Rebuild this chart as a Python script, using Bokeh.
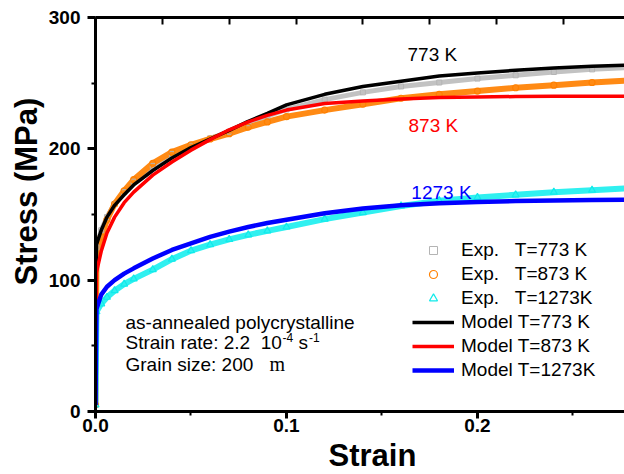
import math

from bokeh.plotting import figure
from bokeh.models import (Range1d, LinearAxis, FixedTicker, SingleIntervalTicker,
                          NumeralTickFormatter, Label, Legend, LegendItem, ColumnDataSource,
                          Title)
from bokeh.embed import file_html
from bokeh.resources import INLINE

# Tensile flow curves: engineering strain vs. stress (MPa)
strain = [0.0, 0.0005, 0.003, 0.006, 0.01, 0.015, 0.02, 0.03, 0.04, 0.05, 0.06, 0.07,
          0.08, 0.09, 0.10, 0.12, 0.14, 0.16, 0.18, 0.20, 0.22, 0.24, 0.26, 0.28]

exp_773 = [5, 125, 138, 148, 158, 167, 175, 187, 196, 202.5, 208, 213,
           219.5, 225, 230, 237.5, 243, 247.5, 250.5, 253.5, 256, 258.5, 260.5, 262]
exp_873 = [5, 115, 133, 146, 158, 168, 176.5, 189, 197.5, 203, 207.5, 211.5,
           216.5, 220.5, 224.5, 229.5, 234, 238.5, 241.5, 244, 246.5, 248.5, 250.5, 252]
exp_1273 = [5, 76, 82, 87, 92, 97, 101, 108, 116, 122.5, 127, 131,
            134.5, 137.5, 140.5, 146.5, 151.5, 156.5, 160.5, 163, 165, 167, 168.5, 170]

model_773 = [5, 127, 138, 148, 157, 165, 172.5, 183.5, 193, 201, 207.5, 214,
             221, 227, 233.5, 241.5, 247.5, 251.5, 255.5, 257.8, 259.8, 261.5, 262.8, 263.8]
model_873 = [5, 106, 122, 136, 148, 159, 167, 180, 190, 199, 207, 214.5,
             220.5, 225.5, 229.5, 234.5, 236.5, 238, 239, 239.5, 239.8, 240, 240, 240]
model_1273 = [5, 78, 89, 95, 100, 105, 109, 116.5, 123, 128, 133, 137,
              140.5, 143.5, 146, 151, 154.5, 157, 158.5, 159.5, 160.2, 160.7, 161, 161.2]

exp_labels = ["Exp.\u00a0\u00a0\u00a0T=773 K", "Exp.\u00a0\u00a0\u00a0T=873 K", "Exp.\u00a0\u00a0\u00a0T=1273K"]
model_labels = ["Model T=773 K", "Model T=873 K", "Model T=1273K"]
curve_tags = ["773 K", "873 K", "1273 K"]
top_ticks = [0.035, 0.070, 0.105, 0.140, 0.175, 0.210, 0.245]

FONT = "Liberation Sans"

src = ColumnDataSource(dict(strain=strain,
                            e773=exp_773, e873=exp_873, e1273=exp_1273,
                            m773=model_773, m873=model_873, m1273=model_1273))

p = figure(width=624, height=474, output_backend="svg", toolbar_location=None,
           x_range=Range1d(0, 0.277), y_range=Range1d(0, 300),
           x_axis_location=None, y_axis_location=None,
           min_border_left=95, min_border_right=0, min_border_top=17, min_border_bottom=63)
p.outline_line_color = None
p.background_fill_color = "white"
p.border_fill_color = "white"
p.grid.visible = False

# axes
xaxis = LinearAxis(ticker=SingleIntervalTicker(interval=0.1, num_minor_ticks=2),
                   formatter=NumeralTickFormatter(format="0.0"))
yaxis = LinearAxis(ticker=SingleIntervalTicker(interval=100, num_minor_ticks=2))
for ax, out in ((xaxis, 7), (yaxis, 8)):
    ax.axis_line_width = 3
    ax.major_tick_line_width = 3
    ax.major_tick_in = 0
    ax.major_tick_out = out
    ax.minor_tick_line_width = 2
    ax.minor_tick_in = 0
    ax.minor_tick_out = 4
    ax.major_label_text_font = FONT
    ax.major_label_text_font_style = "bold"
    ax.major_label_text_font_size = "19px"
    ax.major_label_text_color = "black"
xaxis.major_label_standoff = 0
yaxis.major_label_standoff = 7
p.add_layout(xaxis, "below")
p.add_layout(yaxis, "left")

# plain top frame edge with inward ticks only
top = LinearAxis(ticker=FixedTicker(ticks=top_ticks, minor_ticks=[]))
top.axis_line_width = 3
top.major_tick_line_width = 2
top.major_tick_in = 7
top.major_tick_out = 0
top.major_label_overrides = {t: "" for t in top_ticks}
top.major_label_standoff = 0
p.add_layout(top, "above")

# axis titles
p.add_layout(Title(text="Stress (MPa)", align="left", offset=126, standoff=4,
                   text_font=FONT, text_font_style="bold", text_font_size="31px",
                   text_color="black"), "left")
p.add_layout(Title(text="Strain", align="left", offset=233, standoff=3,
                   text_font=FONT, text_font_style="bold", text_font_size="31px",
                   text_color="black"), "below")

# experimental bands
p.line("strain", "e773", source=src, line_color="#c2c2c2", line_width=5)
p.line("strain", "e873", source=src, line_color="#ff8a14", line_width=6)
p.line("strain", "e1273", source=src, line_color="#30f0f0", line_width=6)
r_e773 = p.scatter("strain", "e773", source=src, marker="square", size=5,
                   fill_color=None, line_color="#b4b4b4", line_width=1)
r_e873 = p.scatter("strain", "e873", source=src, marker="circle", size=6,
                   fill_color=None, line_color="#ff8000", line_width=1.2)
r_e1273 = p.scatter("strain", "e1273", source=src, marker="triangle", size=7,
                    fill_color=None, line_color="#10eaea", line_width=1.2)

# model curves
r_m773 = p.line("strain", "m773", source=src, line_color="black", line_width=3.5)
r_m873 = p.line("strain", "m873", source=src, line_color="#ff0000", line_width=3.5)
r_m1273 = p.line("strain", "m1273", source=src, line_color="#0000ff", line_width=4.5)

legend = Legend(items=[LegendItem(label=exp_labels[0], renderers=[r_e773]),
                       LegendItem(label=exp_labels[1], renderers=[r_e873]),
                       LegendItem(label=exp_labels[2], renderers=[r_e1273]),
                       LegendItem(label=model_labels[0], renderers=[r_m773]),
                       LegendItem(label=model_labels[1], renderers=[r_m873]),
                       LegendItem(label=model_labels[2], renderers=[r_m1273])],
                location=(317, 30), border_line_color=None, background_fill_alpha=0,
                glyph_width=42, glyph_height=20, label_height=20, spacing=2,
                padding=0, margin=0, label_standoff=7,
                label_text_font=FONT, label_text_font_size="19px", label_text_color="black")
p.add_layout(legend)

# temperature tags next to the curves
tag_colors = ["black", "#ff0000", "#0000ff"]
tag_pos = [(0.1634, 271.8), (0.1639, 217.8), (0.1654, 166.8)]
for txt, col, (tx, ty) in zip(curve_tags, tag_colors, tag_pos):
    p.add_layout(Label(x=tx, y=ty, text=txt, text_color=col, text_font=FONT,
                       text_font_size="19px", text_baseline="alphabetic"))

# test conditions
def note(x, y, text, size="19px", font=FONT):
    p.add_layout(Label(x=x, y=y, text=text, text_color="black", text_font=font,
                       text_font_size=size, text_baseline="alphabetic"))

note(0.0157, 67.8, "as-annealed polycrystalline")
note(0.0157, 52.2, "Strain rate: 2.2\u00a0\u00a010")
note(0.0979, 56.6, "-4", size="12px")
note(0.1063, 52.2, "s")
note(0.1118, 56.6, "-1", size="12px")
note(0.0157, 35.8, "Grain size: 200")
note(0.0911, 35.8, "m", size="20px", font="Liberation Serif")

open("out.html", "w").write(file_html(p, INLINE))
